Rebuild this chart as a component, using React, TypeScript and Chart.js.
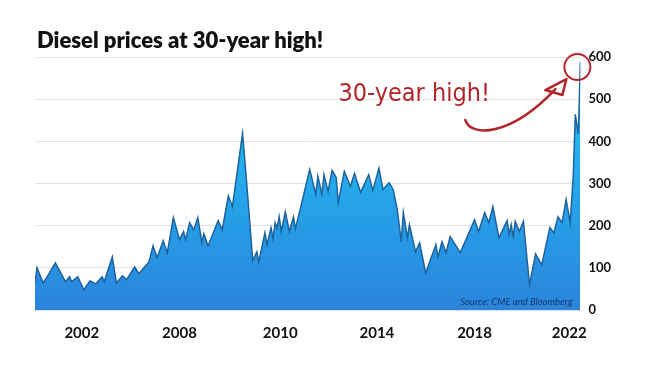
import React, { useEffect, useRef } from 'react';
import { Chart, registerables } from 'chart.js';

Chart.register(...registerables);

// Month index counted from January 2000
const months = [
  0, 1, 4, 6, 10, 15, 17, 18, 21, 24, 27, 30, 33, 34, 38, 40, 43, 45, 49, 51,
  56, 58, 60, 63, 65, 68, 71, 73, 74, 76, 78, 80, 82, 83, 85, 90, 92, 95, 97, 102,
  104, 107, 109, 110, 113, 114, 116, 117, 118, 119, 120, 121, 123, 125, 127, 128, 135, 138, 139, 141,
  142, 144, 146, 148, 149, 152, 155, 157, 160, 164, 166, 169, 171, 174, 176, 178, 180, 181, 183, 184,
  187, 189, 192, 197, 198, 200, 202, 204, 209, 216, 218, 221, 223, 225, 228, 232, 233, 234, 235, 236,
  238, 240, 243, 246, 249, 253, 255, 257, 259, 261, 263, 264.5, 265.5, 267, 268,
];

// Diesel price (cents per gallon)
const prices = [
  64, 100, 64, 79, 112, 67, 79, 67, 79, 48, 69, 62, 79, 67, 126, 64, 81, 72, 102, 86,
  114, 152, 124, 164, 136, 219, 167, 186, 167, 207, 190, 219, 160, 181, 152, 212, 190, 271, 245, 419,
  302, 117, 138, 114, 183, 155, 195, 169, 207, 195, 221, 186, 233, 186, 221, 193, 333, 274, 317, 274,
  321, 281, 331, 314, 255, 329, 293, 324, 279, 321, 283, 336, 286, 302, 286, 238, 162, 231, 171, 202,
  138, 159, 88, 155, 126, 162, 136, 174, 136, 214, 186, 231, 207, 245, 171, 212, 179, 202, 174, 210,
  186, 210, 60, 133, 107, 195, 183, 221, 207, 262, 207, 317, 464, 417, 588,
];

const tickMonths = [23, 71, 120.5, 168, 216, 262.5];
const tickLabels = ['2002', '2008', '2010', '2014', '2018', '2022'];

const titleText = 'Diesel prices at 30-year high!';
const annotationText = '30-year high!';
const sourceText = 'Source: CME and Bloomberg';

const RED = '#b2262b';

const annotationPlugin = {
  id: 'annot',
  afterDatasetsDraw(chart: any) {
    const { ctx, chartArea, scales } = chart;
    let mi = 0;
    prices.forEach((p, i) => { if (p > prices[mi]) mi = i; });
    const px = scales.x.getPixelForValue(months[mi]);
    const py = scales.y.getPixelForValue(prices[mi]);
    ctx.save();
    // source
    ctx.fillStyle = '#17386a';
    ctx.font = 'italic 9.5px Lato, sans-serif';
    ctx.textAlign = 'right';
    ctx.textBaseline = 'middle';
    ctx.fillText(sourceText, chartArea.right - 8, chartArea.bottom - 8);

    // circle
    ctx.strokeStyle = RED;
    ctx.lineWidth = 2;
    ctx.beginPath();
    ctx.arc(px - 3, py + 5, 13, 0, Math.PI * 2);
    ctx.stroke();

    // text
    ctx.fillStyle = RED;
    ctx.font = '25px "DejaVu Sans Condensed", sans-serif';
    ctx.textAlign = 'left';
    ctx.textBaseline = 'alphabetic';
    ctx.fillText(annotationText, px - 242, py + 39);

    // arrow
    ctx.lineWidth = 2.5;
    ctx.lineCap = 'round';
    ctx.lineJoin = 'round';
    ctx.beginPath();
    ctx.moveTo(px - 115, py + 58);
    ctx.bezierCurveTo(px - 110, py + 75, px - 70, py + 75, px - 25, py + 27);
    ctx.stroke();
    ctx.beginPath();
    ctx.moveTo(px - 14, py + 17);
    ctx.lineTo(px - 35, py + 28);
    ctx.lineTo(px - 18, py + 33);
    ctx.closePath();
    ctx.stroke();
    ctx.restore();
  },
};

export default function App() {
  const ref = useRef<HTMLCanvasElement>(null);
  useEffect(() => {
    if (!ref.current) return;
    const chart = new Chart(ref.current, {
      type: 'line',
      data: {
        datasets: [
          {
            data: months.map((m, i) => ({ x: m, y: prices[i] })),
            fill: 'origin',
            borderColor: '#1b629f',
            borderWidth: 1.5,
            pointRadius: 0,
            tension: 0,
            backgroundColor: (c: any) => {
              const area = c.chart.chartArea;
              if (!area) return '#2596e4';
              const g = c.chart.ctx.createLinearGradient(0, area.top, 0, area.bottom);
              g.addColorStop(0, '#1ec3f4');
              g.addColorStop(0.45, '#24acec');
              g.addColorStop(1, '#2b84dc');
              return g;
            },
          },
        ],
      },
      options: {
        responsive: false,
        animation: false,
        layout: { padding: { left: 35, right: 31, top: 57, bottom: 10 } },
        plugins: { legend: { display: false }, tooltip: { enabled: false }, title: { display: false } },
        scales: {
          x: {
            type: 'linear',
            min: 0,
            max: 268,
            grid: { display: false, drawTicks: false },
            border: { display: false },
            afterBuildTicks: (s: any) => {
              s.ticks = tickMonths.map((v) => ({ value: v }));
            },
            ticks: {
              autoSkip: false,
              maxRotation: 0,
              padding: 14,
              color: '#111',
              font: { family: 'Lato', size: 15, weight: 'bold' },
              callback: (v: any) => tickLabels[tickMonths.indexOf(Number(v))] ?? '',
            },
          },
          y: {
            position: 'right',
            min: 0,
            max: 600,
            grid: { color: '#e2e2e2', drawTicks: false, lineWidth: 1 },
            border: { display: false },
            ticks: {
              stepSize: 100,
              padding: 8,
              color: '#111',
              font: { family: 'Lato', size: 13, weight: 'bold' },
            },
          },
        },
      },
      plugins: [annotationPlugin],
    });
    return () => chart.destroy();
  }, []);

  return (
    <div style={{ position: 'absolute', left: 0, top: 0, width: 650, height: 366, background: '#fff' }}>
      <div
        style={{
          position: 'absolute',
          left: 37,
          top: 27,
          fontFamily: 'Lato, sans-serif',
          fontWeight: 800,
          fontSize: 22,
          lineHeight: '26px',
          color: '#111',
          whiteSpace: 'nowrap',
        }}
      >
        {titleText}
      </div>
      <canvas ref={ref} width={650} height={366} style={{ display: 'block' }} />
    </div>
  );
}
